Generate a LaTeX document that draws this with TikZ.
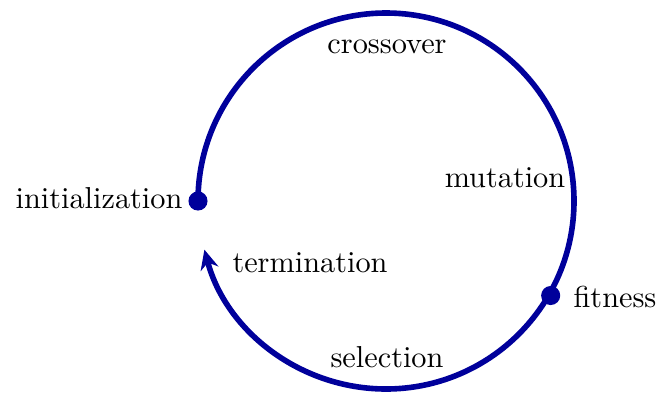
\documentclass[tikz,border=0pt]{standalone}
\usetikzlibrary{arrows.meta}
\definecolor{cyc}{RGB}{0,0,155}
\begin{document}
\begin{tikzpicture}[x=0.33pt,y=0.33pt,
  cycline/.style={draw=cyc,line width=1.85pt},
  dot/.style={circle,fill=cyc,inner sep=0pt,minimum size=6.3pt},
  lbl/.style={inner sep=0pt,font=\normalsize}]
\useasboundingbox (0,0) rectangle (657,392);
\node[dot] (init) at (198,191) {};
\node[dot] (fit) at ({387+189*cos(30)},{191-189*sin(30)}) {};
\coordinate (endp) at ({387+188*cos(195)},{191+188*sin(195)});
\draw[cycline,-{Stealth[length=6.5pt,width=6pt]}] (init.center) arc[start angle=180,end angle=-165,radius=62.04pt];
\node[lbl,anchor=east] (linit) at (183,194) {initialization};
\node[lbl] (lcross) at (387,345) {crossover};
\node[lbl] (lmut) at (505,214) {mutation};
\node[lbl] (lterm) at (310,129) {termination};
\node[lbl] (lsel) at (387,35) {selection};
\node[lbl,anchor=west] (lfit) at (573,95) {fitness};
\end{tikzpicture}
\end{document}
